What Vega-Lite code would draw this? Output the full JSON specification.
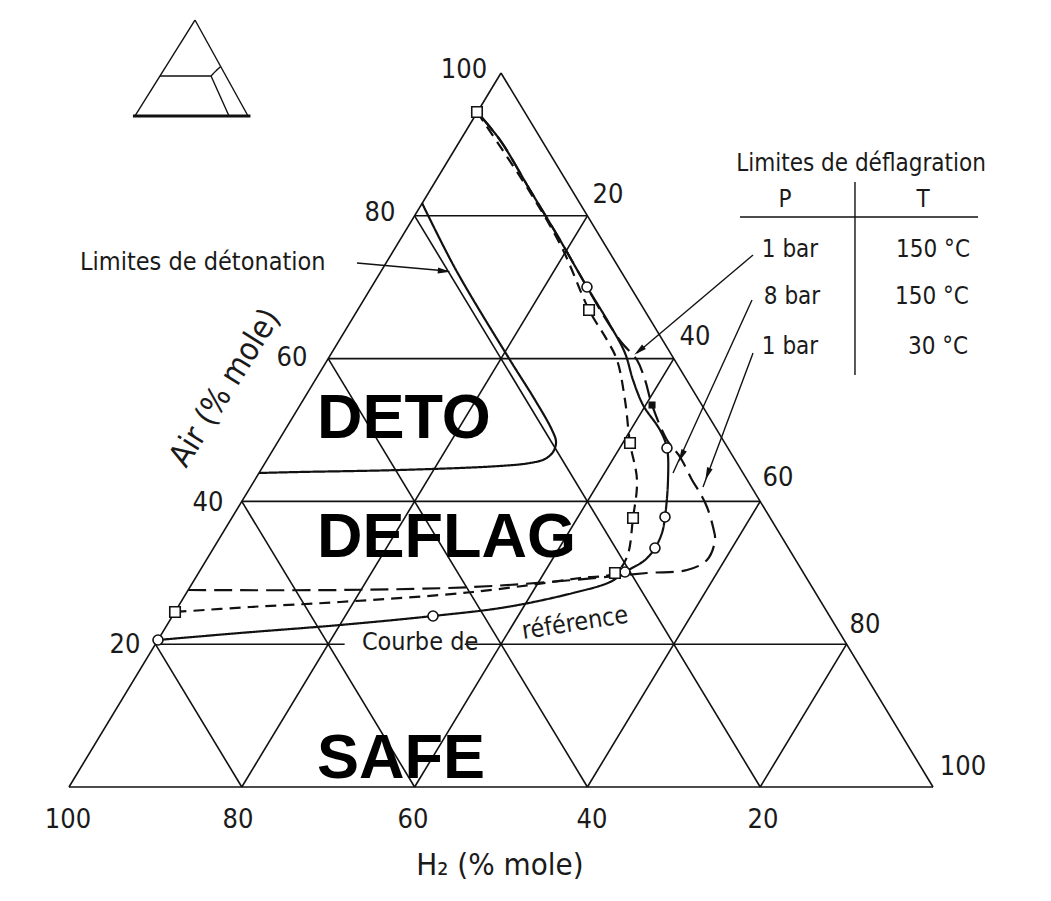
{
  "$schema": "https://vega.github.io/schema/vega-lite/v6.json",
  "width": 1051,
  "height": 901,
  "padding": 0,
  "autosize": {"type": "fit", "contains": "padding"},
  "background": "#ffffff",
  "config": {"view": {"stroke": null}},
  "datasets": {
    "seg": [
      {"k": "grid", "x": 0, "y": 0, "x2": 100, "y2": 0},
      {"k": "grid", "x": 0, "y": 0, "x2": 50, "y2": 100},
      {"k": "grid", "x": 100, "y": 0, "x2": 50, "y2": 100},
      {"k": "grid", "x": 10, "y": 20, "x2": 31.9, "y2": 20},
      {"k": "grid", "x": 45.8, "y": 20, "x2": 90, "y2": 20},
      {"k": "grid", "x": 20, "y": 40, "x2": 80, "y2": 40},
      {"k": "grid", "x": 30, "y": 60, "x2": 70, "y2": 60},
      {"k": "grid", "x": 40, "y": 80, "x2": 60, "y2": 80},
      {"k": "grid", "x": 20, "y": 0, "x2": 10, "y2": 20},
      {"k": "grid", "x": 40, "y": 0, "x2": 20, "y2": 40},
      {"k": "grid", "x": 60, "y": 0, "x2": 30, "y2": 60},
      {"k": "grid", "x": 80, "y": 0, "x2": 40, "y2": 80},
      {"k": "grid", "x": 20, "y": 0, "x2": 60, "y2": 80},
      {"k": "grid", "x": 40, "y": 0, "x2": 70, "y2": 60},
      {"k": "grid", "x": 60, "y": 0, "x2": 80, "y2": 40},
      {"k": "grid", "x": 80, "y": 0, "x2": 90, "y2": 20},
      {"k": "table", "x": 77.66, "y": 79.83, "x2": 105.21, "y2": 79.83},
      {"k": "table", "x": 90.97, "y": 84.73, "x2": 90.97, "y2": 57.7},
      {"k": "arrow", "x": 33.33, "y": 73.39, "x2": 43.75, "y2": 72.27},
      {"k": "arrow", "x": 79.17, "y": 74.51, "x2": 65.74, "y2": 60.78},
      {"k": "arrow", "x": 79.05, "y": 68.21, "x2": 69.91, "y2": 43.98},
      {"k": "arrow", "x": 79.17, "y": 60.78, "x2": 73.38, "y2": 42.02},
      {"k": "inset", "x": 14.58, "y": 107.42, "x2": 7.64, "y2": 93.98},
      {"k": "inset", "x": 14.58, "y": 107.42, "x2": 20.72, "y2": 93.98},
      {"k": "insetbase", "x": 7.4, "y": 93.98, "x2": 21.0, "y2": 93.98},
      {"k": "inset", "x": 10.53, "y": 99.58, "x2": 16.44, "y2": 99.58},
      {"k": "inset", "x": 16.44, "y": 99.58, "x2": 18.52, "y2": 93.98},
      {"k": "inset", "x": 16.44, "y": 99.58, "x2": 17.0, "y2": 100.3},
      {"k": "inset", "x": 17.0, "y": 100.3, "x2": 17.56, "y2": 100.9}
    ],
    "curves": [
      {"c": "deto", "i": 0, "x": 40.86, "y": 81.79},
      {"c": "deto", "i": 1, "x": 44.79, "y": 72.41},
      {"c": "deto", "i": 2, "x": 51.04, "y": 59.8},
      {"c": "deto", "i": 3, "x": 53.94, "y": 54.2},
      {"c": "deto", "i": 4, "x": 55.9, "y": 50.0},
      {"c": "deto", "i": 5, "x": 56.37, "y": 48.32},
      {"c": "deto", "i": 6, "x": 56.02, "y": 46.92},
      {"c": "deto", "i": 7, "x": 55.09, "y": 45.94},
      {"c": "deto", "i": 8, "x": 53.36, "y": 45.38},
      {"c": "deto", "i": 9, "x": 49.88, "y": 44.96},
      {"c": "deto", "i": 10, "x": 38.31, "y": 44.4},
      {"c": "deto", "i": 11, "x": 26.74, "y": 44.12},
      {"c": "deto", "i": 12, "x": 21.99, "y": 43.98},
      {"c": "ref", "i": 0, "x": 10.3, "y": 20.59},
      {"c": "ref", "i": 1, "x": 19.79, "y": 21.57},
      {"c": "ref", "i": 2, "x": 31.37, "y": 22.69},
      {"c": "ref", "i": 3, "x": 42.13, "y": 23.95},
      {"c": "ref", "i": 4, "x": 50.69, "y": 25.21},
      {"c": "ref", "i": 5, "x": 58.33, "y": 27.17},
      {"c": "ref", "i": 6, "x": 62.62, "y": 28.71},
      {"c": "ref", "i": 7, "x": 64.35, "y": 30.11},
      {"c": "ref", "i": 8, "x": 66.67, "y": 31.79},
      {"c": "ref", "i": 9, "x": 67.82, "y": 33.47},
      {"c": "ref", "i": 10, "x": 68.63, "y": 35.57},
      {"c": "ref", "i": 11, "x": 68.98, "y": 37.82},
      {"c": "ref", "i": 12, "x": 69.33, "y": 43.0},
      {"c": "ref", "i": 13, "x": 69.21, "y": 47.48},
      {"c": "ref", "i": 14, "x": 68.4, "y": 50.0},
      {"c": "ref", "i": 15, "x": 66.44, "y": 53.5},
      {"c": "ref", "i": 16, "x": 65.28, "y": 57.0},
      {"c": "ref", "i": 17, "x": 64.35, "y": 60.78},
      {"c": "ref", "i": 18, "x": 62.62, "y": 64.71},
      {"c": "ref", "i": 19, "x": 61.23, "y": 67.51},
      {"c": "ref", "i": 20, "x": 59.95, "y": 70.03},
      {"c": "ref", "i": 21, "x": 56.83, "y": 76.61},
      {"c": "ref", "i": 22, "x": 53.36, "y": 83.61},
      {"c": "ref", "i": 23, "x": 49.88, "y": 90.62},
      {"c": "ref", "i": 24, "x": 47.22, "y": 94.54},
      {"c": "sq", "i": 0, "x": 47.22, "y": 94.54},
      {"c": "sq", "i": 1, "x": 53.36, "y": 83.3},
      {"c": "sq", "i": 2, "x": 57.1, "y": 75.4},
      {"c": "sq", "i": 3, "x": 60.19, "y": 66.81},
      {"c": "sq", "i": 4, "x": 62.27, "y": 62.61},
      {"c": "sq", "i": 5, "x": 63.43, "y": 59.8},
      {"c": "sq", "i": 6, "x": 64.35, "y": 54.2},
      {"c": "sq", "i": 7, "x": 64.93, "y": 48.18},
      {"c": "sq", "i": 8, "x": 65.74, "y": 43.0},
      {"c": "sq", "i": 9, "x": 65.28, "y": 37.68},
      {"c": "sq", "i": 10, "x": 64.58, "y": 32.21},
      {"c": "sq", "i": 11, "x": 63.19, "y": 29.97},
      {"c": "sq", "i": 12, "x": 59.14, "y": 29.27},
      {"c": "sq", "i": 13, "x": 46.76, "y": 27.31},
      {"c": "sq", "i": 14, "x": 31.37, "y": 25.91},
      {"c": "sq", "i": 15, "x": 20.95, "y": 25.21},
      {"c": "sq", "i": 16, "x": 12.27, "y": 24.51},
      {"c": "outer", "i": 0, "x": 13.8, "y": 27.59},
      {"c": "outer", "i": 1, "x": 31.37, "y": 27.59},
      {"c": "outer", "i": 2, "x": 46.76, "y": 28.01},
      {"c": "outer", "i": 3, "x": 58.33, "y": 28.99},
      {"c": "outer", "i": 4, "x": 66.9, "y": 29.97},
      {"c": "outer", "i": 5, "x": 71.53, "y": 30.39},
      {"c": "outer", "i": 6, "x": 73.84, "y": 31.79},
      {"c": "outer", "i": 7, "x": 74.77, "y": 34.59},
      {"c": "outer", "i": 8, "x": 74.54, "y": 36.41},
      {"c": "outer", "i": 9, "x": 73.84, "y": 39.22},
      {"c": "outer", "i": 10, "x": 73.03, "y": 41.18},
      {"c": "outer", "i": 11, "x": 72.11, "y": 43.0},
      {"c": "outer", "i": 12, "x": 70.72, "y": 46.22},
      {"c": "outer", "i": 13, "x": 69.21, "y": 48.6},
      {"c": "outer", "i": 14, "x": 67.48, "y": 53.5},
      {"c": "outer", "i": 15, "x": 66.67, "y": 57.0},
      {"c": "outer", "i": 16, "x": 65.74, "y": 59.8},
      {"c": "outer", "i": 17, "x": 64.0, "y": 62.18},
      {"c": "outer", "i": 18, "x": 62.04, "y": 65.69},
      {"c": "outer", "i": 19, "x": 59.95, "y": 70.03},
      {"c": "outer", "i": 20, "x": 56.83, "y": 76.61},
      {"c": "outer", "i": 21, "x": 53.36, "y": 83.61},
      {"c": "outer", "i": 22, "x": 49.88, "y": 90.62},
      {"c": "outer", "i": 23, "x": 47.22, "y": 94.54}
    ],
    "markers": [
      {"m": "circle", "x": 10.3, "y": 20.59},
      {"m": "circle", "x": 42.13, "y": 23.95},
      {"m": "circle", "x": 64.35, "y": 30.11},
      {"m": "circle", "x": 67.82, "y": 33.47},
      {"m": "circle", "x": 68.98, "y": 37.82},
      {"m": "circle", "x": 69.21, "y": 47.48},
      {"m": "circle", "x": 59.95, "y": 70.03},
      {"m": "square", "x": 47.22, "y": 94.54},
      {"m": "square", "x": 60.19, "y": 66.81},
      {"m": "square", "x": 64.93, "y": 48.18},
      {"m": "square", "x": 65.28, "y": 37.68},
      {"m": "square", "x": 63.19, "y": 29.97},
      {"m": "square", "x": 12.27, "y": 24.51},
      {"m": "dot", "x": 67.48, "y": 53.5}
    ],
    "heads": [
      {"id": "a1", "x": 43.29, "y": 72.27},
      {"id": "a2", "x": 66.09, "y": 61.2},
      {"id": "a3", "x": 70.95, "y": 46.5},
      {"id": "a4", "x": 73.96, "y": 43.98}
    ],
    "labels": [
      {"k": "tick", "t": "20", "x": 6.48, "y": 19.89},
      {"k": "tick", "t": "40", "x": 16.09, "y": 39.78},
      {"k": "tick", "t": "60", "x": 25.81, "y": 60.08},
      {"k": "tick", "t": "80", "x": 36.0, "y": 80.39},
      {"k": "tick", "t": "100", "x": 45.72, "y": 100.42},
      {"k": "tick", "t": "100", "x": -0.12, "y": -4.62},
      {"k": "tick", "t": "80", "x": 19.56, "y": -4.62},
      {"k": "tick", "t": "60", "x": 39.81, "y": -4.62},
      {"k": "tick", "t": "40", "x": 60.53, "y": -4.62},
      {"k": "tick", "t": "20", "x": 80.32, "y": -4.62},
      {"k": "tick", "t": "20", "x": 62.38, "y": 82.91},
      {"k": "tick", "t": "40", "x": 72.45, "y": 63.03},
      {"k": "tick", "t": "60", "x": 82.06, "y": 43.28},
      {"k": "tick", "t": "80", "x": 92.13, "y": 22.69},
      {"k": "tick", "t": "100", "x": 103.47, "y": 2.8},
      {"k": "table", "t": "Limites de déflagration", "x": 91.67, "y": 87.3},
      {"k": "table", "t": "P", "x": 82.87, "y": 82.21},
      {"k": "table", "t": "T", "x": 98.84, "y": 82.21},
      {"k": "table", "t": "1 bar", "x": 83.45, "y": 75.21},
      {"k": "table", "t": "150 °C", "x": 100.0, "y": 75.21},
      {"k": "table", "t": "8 bar", "x": 83.68, "y": 68.63},
      {"k": "table", "t": "150 °C", "x": 99.88, "y": 68.63},
      {"k": "table", "t": "1 bar", "x": 83.45, "y": 61.62},
      {"k": "table", "t": "30 °C", "x": 100.58, "y": 61.62},
      {"k": "annot", "t": "Limites de détonation", "x": 1.27, "y": 73.53},
      {"k": "annot", "t": "Courbe de", "x": 33.9, "y": 20.3},
      {"k": "rot", "t": "référence", "x": 58.56, "y": 23.0},
      {"k": "airtitle", "t": "Air (% mole)", "x": 18.06, "y": 55.9},
      {"k": "h2title", "t": "H₂ (% mole)", "x": 49.88, "y": -11.06},
      {"k": "big", "t": "DETO", "x": 28.7, "y": 48.88},
      {"k": "big", "t": "DEFLAG", "x": 28.7, "y": 32.21},
      {"k": "big", "t": "SAFE", "x": 28.7, "y": 1.26}
    ]
  },
  "layer": [
    {
      "data": {"name": "seg"},
      "transform": [{"filter": "datum.k === 'grid'"}],
      "mark": {"type": "rule", "color": "#111111", "strokeWidth": 1.6},
      "encoding": {
        "x": {"field": "x", "type": "quantitative", "scale": {"domain": [-7.986, 113.657], "nice": false, "zero": false}, "axis": null},
        "y": {"field": "y", "type": "quantitative", "scale": {"domain": [-15.966, 110.224], "nice": false, "zero": false}, "axis": null},
        "x2": {"field": "x2"},
        "y2": {"field": "y2"}
      }
    },
    {
      "data": {"name": "seg"},
      "transform": [{"filter": "datum.k === 'table' || datum.k === 'arrow' || datum.k === 'inset'"}],
      "mark": {"type": "rule", "color": "#111111", "strokeWidth": 1.4},
      "encoding": {
        "x": {"field": "x", "type": "quantitative", "scale": {"domain": [-7.986, 113.657], "nice": false, "zero": false}, "axis": null},
        "y": {"field": "y", "type": "quantitative", "scale": {"domain": [-15.966, 110.224], "nice": false, "zero": false}, "axis": null},
        "x2": {"field": "x2"},
        "y2": {"field": "y2"}
      }
    },
    {
      "data": {"name": "seg"},
      "transform": [{"filter": "datum.k === 'insetbase'"}],
      "mark": {"type": "rule", "color": "#111111", "strokeWidth": 3},
      "encoding": {
        "x": {"field": "x", "type": "quantitative", "scale": {"domain": [-7.986, 113.657], "nice": false, "zero": false}, "axis": null},
        "y": {"field": "y", "type": "quantitative", "scale": {"domain": [-15.966, 110.224], "nice": false, "zero": false}, "axis": null},
        "x2": {"field": "x2"},
        "y2": {"field": "y2"}
      }
    },
    {
      "data": {"name": "curves"},
      "mark": {"type": "line", "color": "#111111", "strokeWidth": 2.2, "interpolate": "catmull-rom"},
      "encoding": {
        "x": {"field": "x", "type": "quantitative", "scale": {"domain": [-7.986, 113.657], "nice": false, "zero": false}, "axis": null},
        "y": {"field": "y", "type": "quantitative", "scale": {"domain": [-15.966, 110.224], "nice": false, "zero": false}, "axis": null},
        "order": {"field": "i", "type": "quantitative"},
        "detail": {"field": "c", "type": "nominal"},
        "strokeDash": {"field": "c", "type": "nominal", "scale": {"domain": ["deto", "ref", "sq", "outer"], "range": [[1, 0], [1, 0], [11, 7], [18, 8]]}, "legend": null}
      }
    },
    {
      "data": {"name": "markers"},
      "transform": [{"filter": "datum.m === 'circle'"}],
      "mark": {"type": "point", "shape": "circle", "filled": true, "fill": "#ffffff", "stroke": "#111111", "strokeWidth": 1.6, "size": 100, "opacity": 1},
      "encoding": {
        "x": {"field": "x", "type": "quantitative", "scale": {"domain": [-7.986, 113.657], "nice": false, "zero": false}, "axis": null},
        "y": {"field": "y", "type": "quantitative", "scale": {"domain": [-15.966, 110.224], "nice": false, "zero": false}, "axis": null}
      }
    },
    {
      "data": {"name": "markers"},
      "transform": [{"filter": "datum.m === 'square'"}],
      "mark": {"type": "point", "shape": "square", "filled": true, "fill": "#ffffff", "stroke": "#111111", "strokeWidth": 1.6, "size": 110, "opacity": 1},
      "encoding": {
        "x": {"field": "x", "type": "quantitative", "scale": {"domain": [-7.986, 113.657], "nice": false, "zero": false}, "axis": null},
        "y": {"field": "y", "type": "quantitative", "scale": {"domain": [-15.966, 110.224], "nice": false, "zero": false}, "axis": null}
      }
    },
    {
      "data": {"name": "markers"},
      "transform": [{"filter": "datum.m === 'dot'"}],
      "mark": {"type": "point", "shape": "square", "filled": true, "color": "#111111", "size": 50, "opacity": 1},
      "encoding": {
        "x": {"field": "x", "type": "quantitative", "scale": {"domain": [-7.986, 113.657], "nice": false, "zero": false}, "axis": null},
        "y": {"field": "y", "type": "quantitative", "scale": {"domain": [-15.966, 110.224], "nice": false, "zero": false}, "axis": null}
      }
    },
    {
      "data": {"name": "heads"},
      "transform": [{"filter": "datum.id === 'a1'"}],
      "mark": {"type": "point", "shape": "M0,-1L0.4,0.7L-0.4,0.7Z", "filled": true, "color": "#111111", "size": 220, "angle": 95, "opacity": 1},
      "encoding": {
        "x": {"field": "x", "type": "quantitative", "scale": {"domain": [-7.986, 113.657], "nice": false, "zero": false}, "axis": null},
        "y": {"field": "y", "type": "quantitative", "scale": {"domain": [-15.966, 110.224], "nice": false, "zero": false}, "axis": null}
      }
    },
    {
      "data": {"name": "heads"},
      "transform": [{"filter": "datum.id === 'a2'"}],
      "mark": {"type": "point", "shape": "M0,-1L0.4,0.7L-0.4,0.7Z", "filled": true, "color": "#111111", "size": 220, "angle": 230, "opacity": 1},
      "encoding": {
        "x": {"field": "x", "type": "quantitative", "scale": {"domain": [-7.986, 113.657], "nice": false, "zero": false}, "axis": null},
        "y": {"field": "y", "type": "quantitative", "scale": {"domain": [-15.966, 110.224], "nice": false, "zero": false}, "axis": null}
      }
    },
    {
      "data": {"name": "heads"},
      "transform": [{"filter": "datum.id === 'a3'"}],
      "mark": {"type": "point", "shape": "M0,-1L0.4,0.7L-0.4,0.7Z", "filled": true, "color": "#111111", "size": 220, "angle": 204, "opacity": 1},
      "encoding": {
        "x": {"field": "x", "type": "quantitative", "scale": {"domain": [-7.986, 113.657], "nice": false, "zero": false}, "axis": null},
        "y": {"field": "y", "type": "quantitative", "scale": {"domain": [-15.966, 110.224], "nice": false, "zero": false}, "axis": null}
      }
    },
    {
      "data": {"name": "heads"},
      "transform": [{"filter": "datum.id === 'a4'"}],
      "mark": {"type": "point", "shape": "M0,-1L0.4,0.7L-0.4,0.7Z", "filled": true, "color": "#111111", "size": 220, "angle": 201, "opacity": 1},
      "encoding": {
        "x": {"field": "x", "type": "quantitative", "scale": {"domain": [-7.986, 113.657], "nice": false, "zero": false}, "axis": null},
        "y": {"field": "y", "type": "quantitative", "scale": {"domain": [-15.966, 110.224], "nice": false, "zero": false}, "axis": null}
      }
    },
    {
      "data": {"name": "labels"},
      "transform": [{"filter": "datum.k === 'tick'"}],
      "mark": {"type": "text", "font": "DejaVu Sans Condensed", "fontSize": 27, "color": "#1a1a1a", "align": "center", "baseline": "middle"},
      "encoding": {
        "x": {"field": "x", "type": "quantitative", "scale": {"domain": [-7.986, 113.657], "nice": false, "zero": false}, "axis": null},
        "y": {"field": "y", "type": "quantitative", "scale": {"domain": [-15.966, 110.224], "nice": false, "zero": false}, "axis": null},
        "text": {"field": "t"}
      }
    },
    {
      "data": {"name": "labels"},
      "transform": [{"filter": "datum.k === 'table'"}],
      "mark": {"type": "text", "font": "DejaVu Sans Condensed", "fontSize": 24, "color": "#1a1a1a", "align": "center", "baseline": "middle"},
      "encoding": {
        "x": {"field": "x", "type": "quantitative", "scale": {"domain": [-7.986, 113.657], "nice": false, "zero": false}, "axis": null},
        "y": {"field": "y", "type": "quantitative", "scale": {"domain": [-15.966, 110.224], "nice": false, "zero": false}, "axis": null},
        "text": {"field": "t"}
      }
    },
    {
      "data": {"name": "labels"},
      "transform": [{"filter": "datum.k === 'annot'"}],
      "mark": {"type": "text", "font": "DejaVu Sans Condensed", "fontSize": 25, "color": "#1a1a1a", "align": "left", "baseline": "middle"},
      "encoding": {
        "x": {"field": "x", "type": "quantitative", "scale": {"domain": [-7.986, 113.657], "nice": false, "zero": false}, "axis": null},
        "y": {"field": "y", "type": "quantitative", "scale": {"domain": [-15.966, 110.224], "nice": false, "zero": false}, "axis": null},
        "text": {"field": "t"}
      }
    },
    {
      "data": {"name": "labels"},
      "transform": [{"filter": "datum.k === 'rot'"}],
      "mark": {"type": "text", "font": "DejaVu Sans Condensed", "fontSize": 25, "color": "#1a1a1a", "align": "center", "baseline": "middle", "angle": -9},
      "encoding": {
        "x": {"field": "x", "type": "quantitative", "scale": {"domain": [-7.986, 113.657], "nice": false, "zero": false}, "axis": null},
        "y": {"field": "y", "type": "quantitative", "scale": {"domain": [-15.966, 110.224], "nice": false, "zero": false}, "axis": null},
        "text": {"field": "t"}
      }
    },
    {
      "data": {"name": "labels"},
      "transform": [{"filter": "datum.k === 'airtitle'"}],
      "mark": {"type": "text", "font": "DejaVu Sans Condensed", "fontSize": 32, "color": "#1a1a1a", "align": "center", "baseline": "middle", "angle": -58},
      "encoding": {
        "x": {"field": "x", "type": "quantitative", "scale": {"domain": [-7.986, 113.657], "nice": false, "zero": false}, "axis": null},
        "y": {"field": "y", "type": "quantitative", "scale": {"domain": [-15.966, 110.224], "nice": false, "zero": false}, "axis": null},
        "text": {"field": "t"}
      }
    },
    {
      "data": {"name": "labels"},
      "transform": [{"filter": "datum.k === 'h2title'"}],
      "mark": {"type": "text", "font": "DejaVu Sans Condensed", "fontSize": 31, "color": "#1a1a1a", "align": "center", "baseline": "middle"},
      "encoding": {
        "x": {"field": "x", "type": "quantitative", "scale": {"domain": [-7.986, 113.657], "nice": false, "zero": false}, "axis": null},
        "y": {"field": "y", "type": "quantitative", "scale": {"domain": [-15.966, 110.224], "nice": false, "zero": false}, "axis": null},
        "text": {"field": "t"}
      }
    },
    {
      "data": {"name": "labels"},
      "transform": [{"filter": "datum.k === 'big'"}],
      "mark": {"type": "text", "font": "Liberation Sans", "fontWeight": "bold", "fontSize": 63, "color": "#000000", "align": "left", "baseline": "alphabetic"},
      "encoding": {
        "x": {"field": "x", "type": "quantitative", "scale": {"domain": [-7.986, 113.657], "nice": false, "zero": false}, "axis": null},
        "y": {"field": "y", "type": "quantitative", "scale": {"domain": [-15.966, 110.224], "nice": false, "zero": false}, "axis": null},
        "text": {"field": "t"}
      }
    }
  ]
}
